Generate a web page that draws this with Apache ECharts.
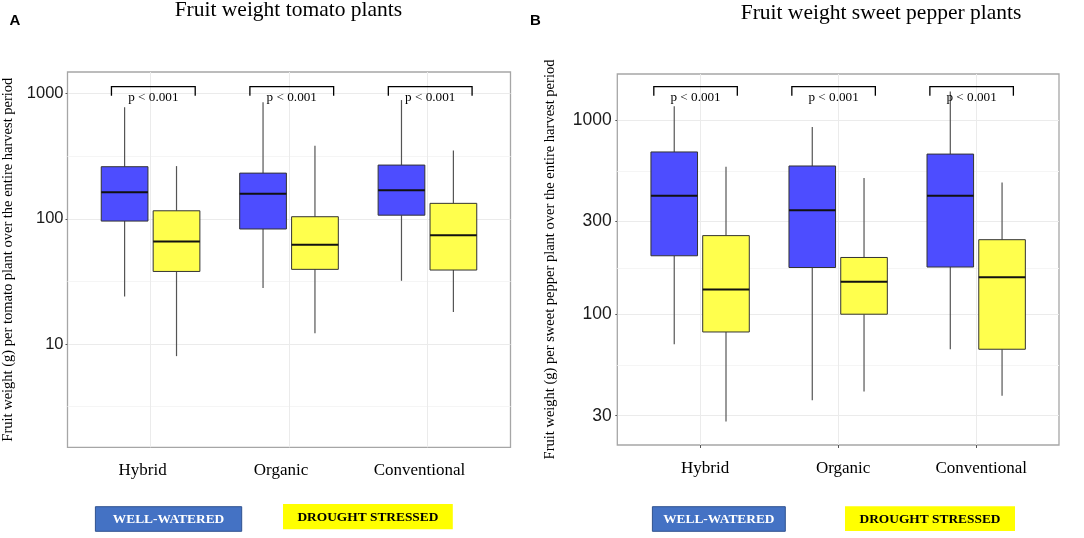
<!DOCTYPE html>
<html>
<head>
<meta charset="utf-8">
<script src="https://cdn.jsdelivr.net/npm/echarts@6/dist/echarts.min.js"></script>
<style>
  html, body { margin: 0; background: #fff; }
  #chart { width: 1084px; height: 538px; }
</style>
</head>
<body>
<div id="chart"></div>
<script>
// categories and treatments
const categories = ['Hybrid', 'Organic', 'Conventional'];
const treatments = ['WELL-WATERED', 'DROUGHT STRESSED'];

// box summaries per category: [min, Q1, median, Q3, max] (g per plant)
const tomatoWellWatered = [[24, 96, 163, 261, 778], [28, 83, 159, 232, 853], [32, 107, 169, 269, 890]];
const tomatoDrought = [[8.0, 38, 66, 116, 264], [12.2, 39.5, 62, 104, 384], [18, 39, 74, 133, 352]];
const pepperWellWatered = [[70, 200, 407, 685, 1177], [36, 174, 343, 580, 922], [66, 175, 408, 668, 1402]];
const pepperDrought = [[28, 81, 134, 254, 575], [40, 100, 147, 196, 503], [38, 66, 155, 242, 477]];

// p values over each pair
const tomatoP = ['p < 0.001', 'p < 0.001', 'p < 0.001'];
const pepperP = ['p < 0.001', 'p < 0.001', 'p < 0.001'];

// log axis breaks
const tomatoTicks = [10, 100, 1000];
const tomatoMinor = [3.16, 31.6, 316];
const pepperTicks = [30, 100, 300, 1000];
const pepperMinor = [54.8, 173, 548];
const tomatoRange = [1.495, 1491];
const pepperRange = [21.2, 1727];

const BLUE = '#4d4dff';
const YELLOW = '#ffff4d';
const DODGE = 0.1875;
const BOX_W = 0.3375;
const BRACKET_W = 0.605;
const serif = '"Liberation Serif", "Times New Roman", serif';
const sans = '"Liberation Sans", Arial, sans-serif';

const lg = v => Math.log10(v);

function boxData(rows) {
  return rows.map((r, i) => [i].concat(r.map(lg)));
}

function boxRenderer(side, fill) {
  return function (params, api) {
    const x = api.value(0) + side * DODGE;
    const half = api.size([BOX_W, 0])[0] / 2;
    const pMin = api.coord([x, api.value(1)]);
    const pQ1 = api.coord([x, api.value(2)]);
    const pMed = api.coord([x, api.value(3)]);
    const pQ3 = api.coord([x, api.value(4)]);
    const pMax = api.coord([x, api.value(5)]);
    const whisker = { stroke: '#555', lineWidth: 1.2 };
    return {
      type: 'group',
      children: [
        { type: 'line', shape: { x1: pMin[0], y1: pMin[1], x2: pQ1[0], y2: pQ1[1] }, style: whisker },
        { type: 'line', shape: { x1: pQ3[0], y1: pQ3[1], x2: pMax[0], y2: pMax[1] }, style: whisker },
        { type: 'rect', shape: { x: pQ3[0] - half, y: pQ3[1], width: half * 2, height: pQ1[1] - pQ3[1] },
          style: { fill: fill, stroke: '#333', lineWidth: 1 } },
        { type: 'line', shape: { x1: pMed[0] - half, y1: pMed[1], x2: pMed[0] + half, y2: pMed[1] },
          style: { stroke: '#111', lineWidth: 2 } }
      ]
    };
  };
}

function bracketRenderer(labels, topValue, shift) {
  return function (params, api) {
    const x = api.value(0) + shift;
    const l = api.coord([x - BRACKET_W / 2, lg(topValue)]);
    const r = api.coord([x + BRACKET_W / 2, lg(topValue)]);
    return {
      type: 'group',
      children: [
        { type: 'polyline', shape: { points: [[l[0], l[1] + 9], [l[0], l[1]], [r[0], r[1]], [r[0], r[1] + 9]] },
          style: { stroke: '#000', lineWidth: 1.3, fill: null } },
        { type: 'text', x: (l[0] + r[0]) / 2, y: l[1] + 11.3,
          style: { text: labels[params.dataIndex], fill: '#000', fontSize: 13.2, fontFamily: serif,
                   align: 'center', verticalAlign: 'middle' } }
      ]
    };
  };
}

function xAxis(gridIndex, showTick, pad) {
  return {
    type: 'value', gridIndex: gridIndex, min: -0.6, max: 2.6,
    axisLine: { show: false, onZero: false },
    axisTick: { show: showTick, customValues: [0, 1, 2], length: 3, lineStyle: { color: '#555' } },
    axisLabel: {
      customValues: [0, 1, 2], margin: 15, padding: pad,
      formatter: v => categories[Math.round(v)],
      fontFamily: serif, fontSize: 17, color: '#000'
    },
    splitLine: { show: true, lineStyle: { color: '#ebebeb', width: 1 } }
  };
}

function yAxisMajor(gridIndex, range, ticks, name, gap, fontSize, margin) {
  return {
    type: 'value', gridIndex: gridIndex, min: lg(range[0]), max: lg(range[1]),
    name: name, nameLocation: 'middle', nameRotate: 90, nameGap: gap,
    nameTextStyle: { fontFamily: serif, fontSize: 14.5, color: '#000' },
    axisLine: { show: false, onZero: false },
    axisTick: { show: true, customValues: ticks.map(lg), length: 2, lineStyle: { color: '#555' } },
    axisLabel: {
      customValues: ticks.map(lg), margin: margin,
      formatter: v => String(Math.round(Math.pow(10, v))),
      fontFamily: sans, fontSize: fontSize, color: '#1a1a1a'
    },
    splitLine: { show: true, lineStyle: { color: '#ebebeb', width: 1 } }
  };
}

function yAxisMinor(gridIndex, range, minor) {
  return {
    type: 'value', gridIndex: gridIndex, min: lg(range[0]), max: lg(range[1]),
    axisLine: { show: false, onZero: false },
    axisTick: { show: false, customValues: minor.map(lg) },
    axisLabel: { show: false, customValues: minor.map(lg) },
    splitLine: { show: true, lineStyle: { color: '#f5f5f5', width: 1 } }
  };
}

function legendBox(x, y, w, h, fill, stroke, text, color) {
  return [
    { type: 'rect', shape: { x: x, y: y, width: w, height: h },
      style: { fill: fill, stroke: stroke, lineWidth: stroke ? 1 : 0 } },
    { type: 'text', x: x + w / 2, y: y + h / 2 + 0.5,
      style: { text: text, fill: color, fontSize: 13.4, fontWeight: 'bold', fontFamily: serif,
               align: 'center', verticalAlign: 'middle' } }
  ];
}

const chart = echarts.init(document.getElementById('chart'));

chart.setOption({
  backgroundColor: '#fff',
  animation: false,
  grid: [
    { left: 66, top: 72, width: 444.5, height: 375.3, show: true, borderColor: '#a6a6a6', borderWidth: 1.3 },
    { left: 617.3, top: 74, width: 441.7, height: 371, show: true, borderColor: '#a6a6a6', borderWidth: 1.3 }
  ],
  xAxis: [
    xAxis(0, false, [0, 16, 0, 0]),
    xAxis(1, true, [0, 0, 0, 10])
  ],
  yAxis: [
    yAxisMajor(0, tomatoRange, tomatoTicks,
      'Fruit weight (g) per tomato plant over the entire harvest period', 51.5, 16.5, 4),
    yAxisMinor(0, tomatoRange, tomatoMinor),
    yAxisMajor(1, pepperRange, pepperTicks,
      'Fruit weight (g) per sweet pepper plant over the entire harvest period', 59.5, 17.5, 5.5),
    yAxisMinor(1, pepperRange, pepperMinor)
  ],
  series: [
    { type: 'custom', name: treatments[0], xAxisIndex: 0, yAxisIndex: 0,
      encode: { x: 0, y: [1, 2, 3, 4, 5] }, data: boxData(tomatoWellWatered), renderItem: boxRenderer(-1, BLUE) },
    { type: 'custom', name: treatments[1], xAxisIndex: 0, yAxisIndex: 0,
      encode: { x: 0, y: [1, 2, 3, 4, 5] }, data: boxData(tomatoDrought), renderItem: boxRenderer(1, YELLOW) },
    { type: 'custom', name: treatments[0], xAxisIndex: 1, yAxisIndex: 2,
      encode: { x: 0, y: [1, 2, 3, 4, 5] }, data: boxData(pepperWellWatered), renderItem: boxRenderer(-1, BLUE) },
    { type: 'custom', name: treatments[1], xAxisIndex: 1, yAxisIndex: 2,
      encode: { x: 0, y: [1, 2, 3, 4, 5] }, data: boxData(pepperDrought), renderItem: boxRenderer(1, YELLOW) },
    // significance brackets
    { type: 'custom', xAxisIndex: 0, yAxisIndex: 0, encode: { x: 0 }, silent: true,
      data: categories.map((c, i) => [i]), renderItem: bracketRenderer(tomatoP, 1138, 0.02) },
    { type: 'custom', xAxisIndex: 1, yAxisIndex: 2, encode: { x: 0 }, silent: true,
      data: categories.map((c, i) => [i]), renderItem: bracketRenderer(pepperP, 1486, -0.033) }
  ],
  graphic: [
    { type: 'text', x: 288.4, y: 10,
      style: { text: 'Fruit weight tomato plants', fontSize: 21.5, fontFamily: serif, fill: '#000',
               align: 'center', verticalAlign: 'middle' } },
    { type: 'text', x: 881, y: 13.5,
      style: { text: 'Fruit weight sweet pepper plants', fontSize: 21.5, fontFamily: serif, fill: '#000',
               align: 'center', verticalAlign: 'middle' } },
    { type: 'text', x: 9.5, y: 20.5,
      style: { text: 'A', fontSize: 15, fontWeight: 'bold', fontFamily: sans, fill: '#000', verticalAlign: 'middle' } },
    { type: 'text', x: 530, y: 20.5,
      style: { text: 'B', fontSize: 15, fontWeight: 'bold', fontFamily: sans, fill: '#000', verticalAlign: 'middle' } }
  ]
    .concat(legendBox(95.4, 506.7, 146.3, 24.6, '#4472c4', '#2f528f', treatments[0], '#fff'))
    .concat(legendBox(283, 504, 169.8, 25.3, '#ffff00', null, treatments[1], '#000'))
    .concat(legendBox(652.4, 506.7, 132.9, 24.6, '#4472c4', '#2f528f', treatments[0], '#fff'))
    .concat(legendBox(845, 506.3, 170, 24.7, '#ffff00', null, treatments[1], '#000'))
});
</script>
</body>
</html>
